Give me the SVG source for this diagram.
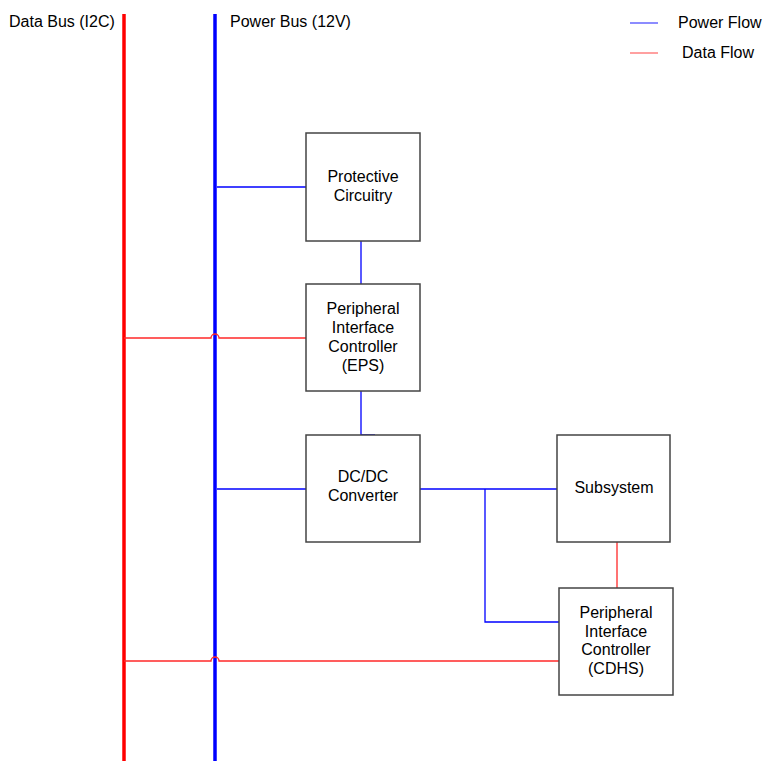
<svg xmlns="http://www.w3.org/2000/svg" width="764" height="761" viewBox="0 0 764 761">
<style>
text{font-family:"Liberation Sans",Arial,sans-serif;font-size:16px;fill:#000}
.box{fill:#fff;stroke:#444;stroke-width:1.5}
.pw{fill:none;stroke:#0000ff;stroke-width:1.3}
.dt{fill:none;stroke:#ff2828;stroke-width:1.3}
.c{text-anchor:middle}
</style>
<rect width="764" height="761" fill="#fff"/>
<g id="buses">
<line x1="124" y1="14" x2="124" y2="761" stroke="#ff0000" stroke-width="3.5"/>
<line x1="215" y1="14" x2="215" y2="761" stroke="#0000ff" stroke-width="3.5"/>
<text x="9" y="27">Data Bus (I2C)</text>
<text x="230" y="27">Power Bus (12V)</text>
</g>
<g id="legend">
<line x1="630" y1="23" x2="658" y2="23" stroke="#4040ff" stroke-width="1.2"/>
<text x="678" y="28">Power Flow</text>
<line x1="630" y1="53" x2="658" y2="53" stroke="#ff6060" stroke-width="1.2"/>
<text x="682" y="58">Data Flow</text>
</g>
<g id="connectors">
<path class="pw" d="M217 187 H306"/>
<path class="pw" d="M361 241 V284"/>
<path class="pw" d="M361 391 V435 H375"/>
<path class="pw" d="M217 489 H306"/>
<path class="pw" d="M420 489 H557"/>
<path class="pw" d="M485 489 V622 H559"/>
<path class="dt" d="M124 338 H211 A4 4 0 0 1 219 338 H306"/>
<path class="dt" d="M124 661 H211 A4 4 0 0 1 219 661 H559"/>
<path class="dt" d="M617 542 V588"/>
</g>
<g id="protective">
<rect class="box" x="306" y="133" width="114" height="108"/>
<text class="c" x="363" y="182">Protective</text>
<text class="c" x="363" y="201">Circuitry</text>
</g>
<g id="pic-eps">
<rect class="box" x="306" y="284" width="114" height="107"/>
<text class="c" x="363" y="314">Peripheral</text>
<text class="c" x="363" y="333">Interface</text>
<text class="c" x="363" y="352">Controller</text>
<text class="c" x="363" y="371">(EPS)</text>
</g>
<g id="dcdc">
<rect class="box" x="306" y="435" width="114" height="107"/>
<text class="c" x="363" y="482">DC/DC</text>
<text class="c" x="363" y="501">Converter</text>
</g>
<g id="subsystem">
<rect class="box" x="557" y="435" width="113" height="107"/>
<text class="c" x="614" y="493">Subsystem</text>
</g>
<g id="pic-cdhs">
<rect class="box" x="559" y="588" width="114" height="107"/>
<text class="c" x="616" y="618">Peripheral</text>
<text class="c" x="616" y="637">Interface</text>
<text class="c" x="616" y="655">Controller</text>
<text class="c" x="616" y="674">(CDHS)</text>
</g>
</svg>
